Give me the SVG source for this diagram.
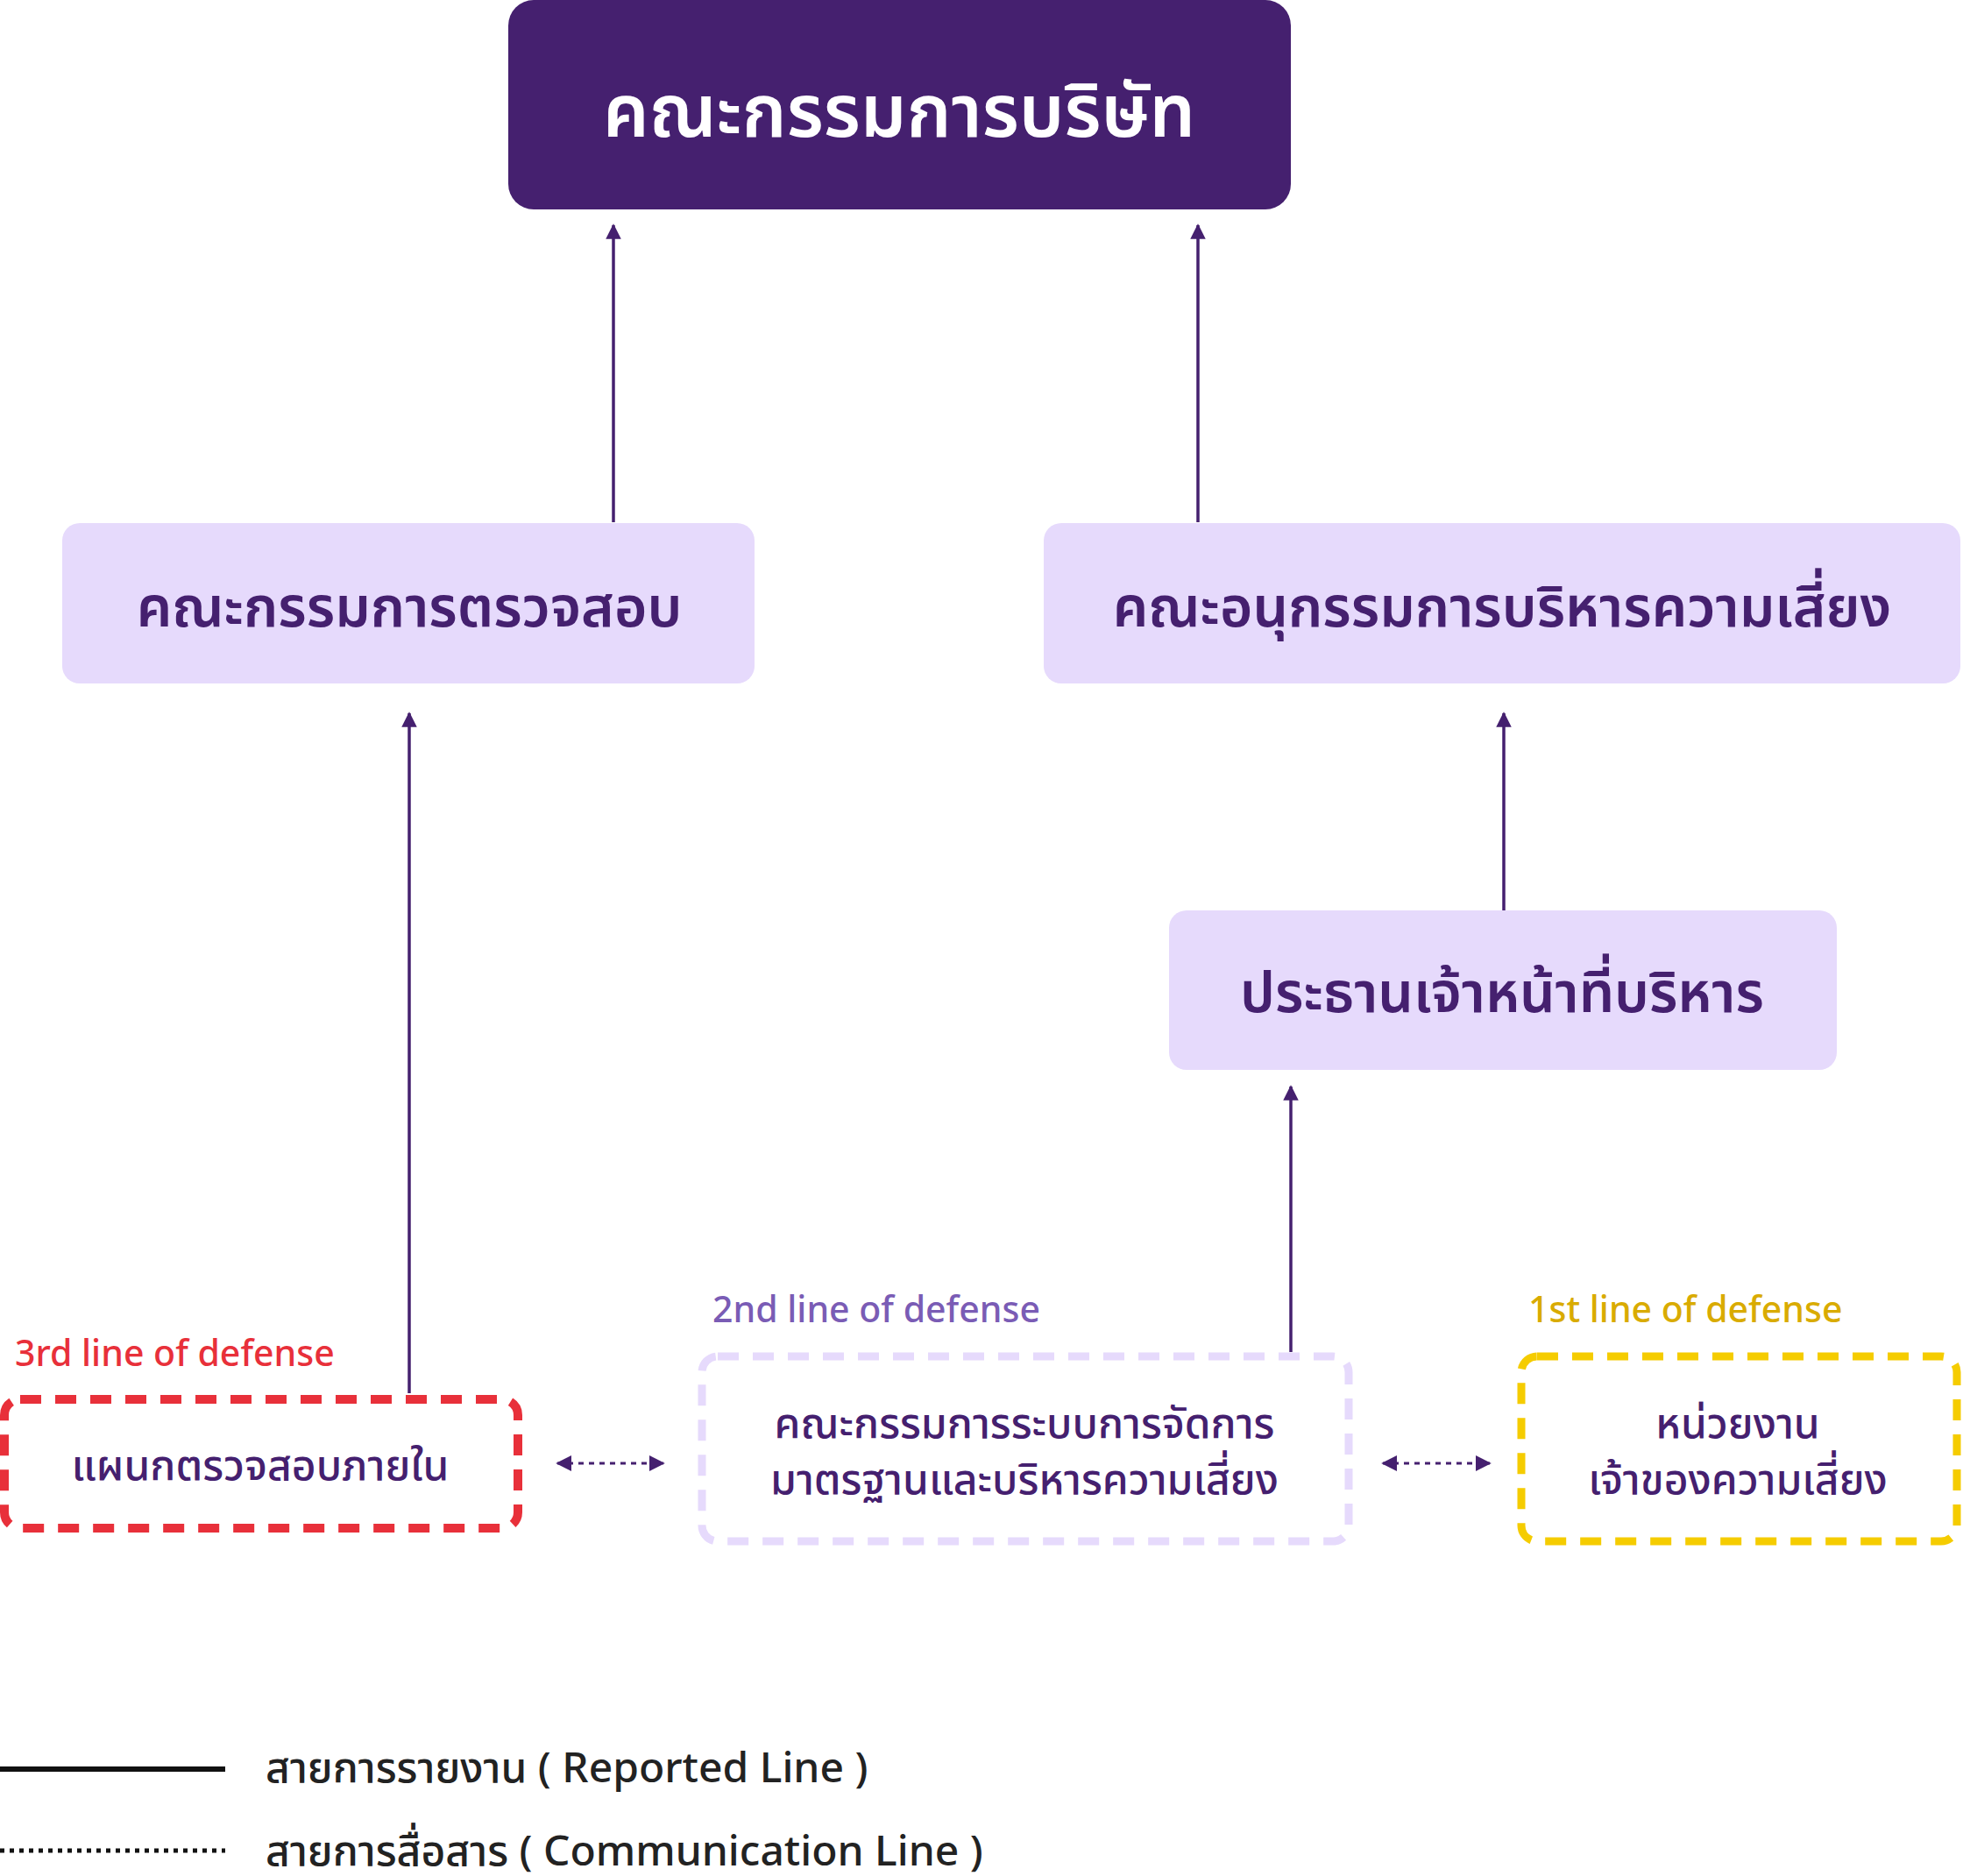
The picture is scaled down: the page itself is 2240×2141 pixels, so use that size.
<svg xmlns="http://www.w3.org/2000/svg" width="2240" height="2141" viewBox="0 0 2240 2141">
<defs>
<style>
text{font-family:"Noto Sans","Noto Sans Thai","DejaVu Sans",sans-serif;text-anchor:middle;dominant-baseline:central}
.n{fill:#45206f;font-weight:600;font-size:64px}
.s{fill:#45206f;font-weight:500;font-size:48px}
.lab{font-size:41px;font-weight:500;text-anchor:start}
.box{fill:#e6dafc}
.up{stroke:#45206f;stroke-width:3.5;fill:none;marker-end:url(#ah)}
.dot{stroke:#45206f;stroke-width:3;stroke-dasharray:6 6;fill:none;marker-start:url(#ahs);marker-end:url(#ah2)}
.leg{fill:#222;font-size:48px;font-weight:500;text-anchor:start}
</style>
<marker id="ah" viewBox="0 0 10 10" refX="9" refY="5" markerWidth="5" markerHeight="5" orient="auto"><path d="M0,0L10,5L0,10z" fill="#45206f"/></marker>
<marker id="ah2" viewBox="0 0 10 10" refX="9" refY="5" markerWidth="6" markerHeight="6" orient="auto"><path d="M0,0L10,5L0,10z" fill="#45206f"/></marker>
<marker id="ahs" viewBox="0 0 10 10" refX="1" refY="5" markerWidth="6" markerHeight="6" orient="auto"><path d="M10,0L0,5L10,10z" fill="#45206f"/></marker>
</defs>
<rect width="2240" height="2141" fill="#fff"/>
<g id="connectors">
<line class="up" x1="700" y1="596" x2="700" y2="257"/>
<line class="up" x1="1367" y1="596" x2="1367" y2="257"/>
<line class="up" x1="467" y1="1590" x2="467" y2="814"/>
<line class="up" x1="1716" y1="1039" x2="1716" y2="814"/>
<line class="up" x1="1473" y1="1543" x2="1473" y2="1240"/>
<line class="dot" x1="636" y1="1670" x2="757" y2="1670"/>
<line class="dot" x1="1578" y1="1670" x2="1700" y2="1670"/>
</g>
<g id="board"><rect x="580" y="0" width="893" height="239" rx="29" fill="#45206f"/><text x="1026" y="123" fill="#fff" font-size="83" font-weight="600">คณะกรรมการบริษัท</text></g>
<g id="audit"><rect class="box" x="71" y="597" width="790" height="183" rx="20"/><text class="n" x="467" y="690">คณะกรรมการตรวจสอบ</text></g>
<g id="risk"><rect class="box" x="1191" y="597" width="1046" height="183" rx="20"/><text class="n" x="1714" y="690">คณะอนุกรรมการบริหารความเสี่ยง</text></g>
<g id="ceo"><rect class="box" x="1334" y="1039" width="762" height="182" rx="20"/><text class="n" x="1714" y="1130">ประธานเจ้าหน้าที่บริหาร</text></g>
<g id="internal"><text class="lab" x="17" y="1543" fill="#e8303a">3rd line of defense</text><rect x="5" y="1597" width="586" height="147" rx="18" fill="none" stroke="#e8303a" stroke-width="10" stroke-dasharray="24 16"/><text class="s" x="297" y="1670">แผนกตรวจสอบภายใน</text></g>
<g id="committee"><text class="lab" x="813" y="1493" fill="#7a5cb5">2nd line of defense</text><rect x="801" y="1548" width="738" height="211" rx="18" fill="none" stroke="#e6dafc" stroke-width="9" stroke-dasharray="24 16"/><text class="s" x="1169" y="1622">คณะกรรมการระบบการจัดการ</text><text class="s" x="1169" y="1686">มาตรฐานและบริหารความเสี่ยง</text></g>
<g id="owner"><text class="lab" x="1744" y="1493" fill="#d9ab00">1st line of defense</text><rect x="1736" y="1548" width="497" height="211" rx="18" fill="none" stroke="#f5cc00" stroke-width="9" stroke-dasharray="24 16"/><text class="s" x="1983" y="1622">หน่วยงาน</text><text class="s" x="1983" y="1686">เจ้าของความเสี่ยง</text></g>
<g id="legend">
<line x1="0" y1="2019" x2="257" y2="2019" stroke="#111" stroke-width="6"/>
<text class="leg" x="303" y="2015">สายการรายงาน ( Reported Line )</text>
<line x1="0" y1="2112" x2="257" y2="2112" stroke="#111" stroke-width="5" stroke-dasharray="5 6"/>
<text class="leg" x="303" y="2110">สายการสื่อสาร ( Communication Line )</text>
</g>
</svg>
